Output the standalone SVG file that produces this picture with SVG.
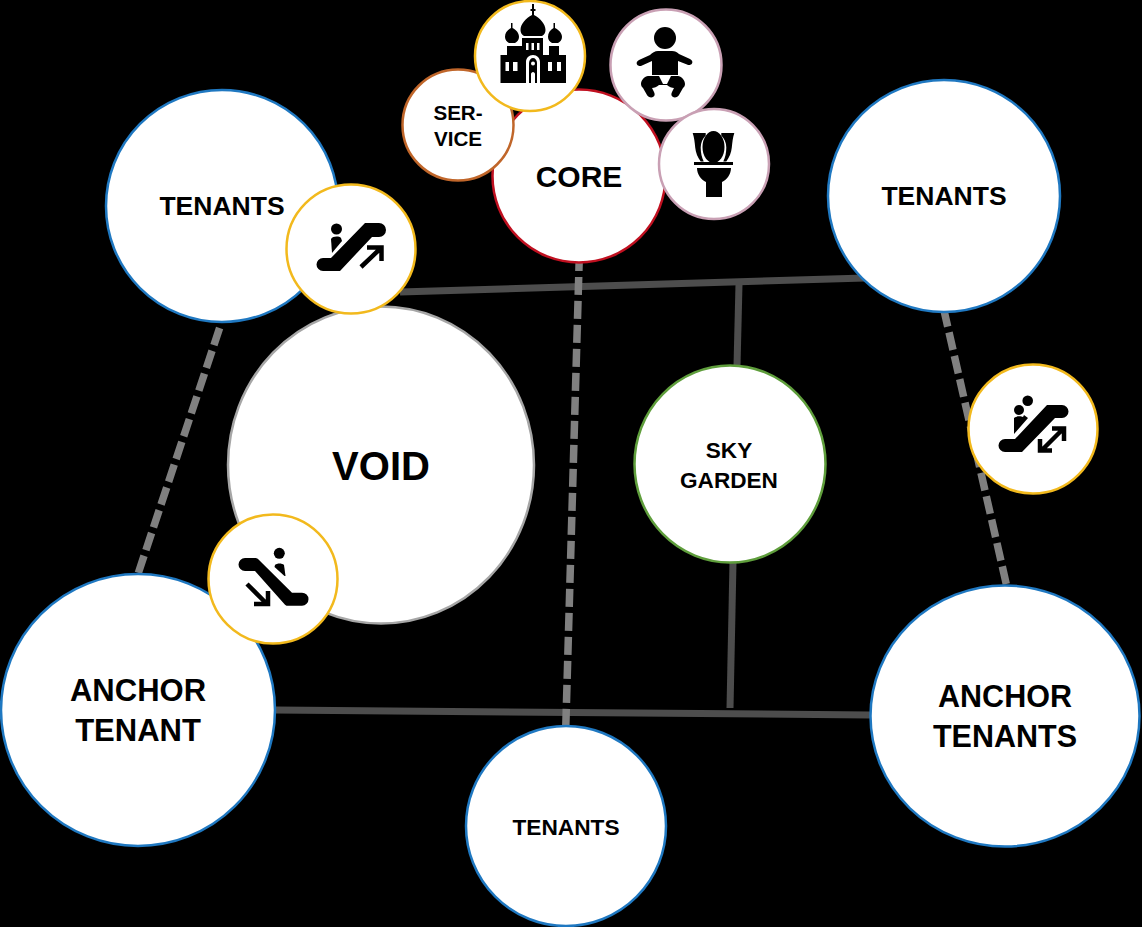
<svg xmlns="http://www.w3.org/2000/svg" width="1142" height="927" viewBox="0 0 1142 927">
<style>
.n{fill:#fff;stroke-width:2.500}
.blue{stroke:#1f78c1}.yel{stroke:#f2b91d}.pink{stroke:#c9a0b4}
.solid{stroke:#4d4d4d;stroke-width:7;fill:none}
.dash{stroke:#808080;stroke-width:7.500;fill:none;stroke-dasharray:18 6}
text{font-family:"Liberation Sans",Arial,sans-serif;font-weight:700;fill:#000;text-anchor:middle}
.ic{fill:#000}
.w{fill:#fff}
.ar{fill:none;stroke:#000;stroke-width:4.500}
</style>
<rect width="1142" height="927" fill="#000"/>
<g id="connectors">
<path class="solid" d="M400 292L865 278"/>
<path class="solid" d="M739 284L737 366"/>
<path class="solid" d="M733 562L730 708"/>
<path class="solid" d="M275 710L870 715"/>
<path class="dash" d="M579.400 253L565.800 726"/>
<path class="dash" d="M219.600 328L138 574"/>
<path class="dash" d="M943.700 309L1006.500 585"/>
</g>
<g id="void"><ellipse class="n" cx="381" cy="465" rx="153" ry="158.500" stroke="#a6a6a6"/><text x="381" y="480" font-size="40">VOID</text></g>
<g id="tenants-tl"><circle class="n blue" cx="222" cy="206" r="116"/><text x="222" y="215" font-size="26.500">TENANTS</text></g>
<g id="tenants-tr"><circle class="n blue" cx="944" cy="196" r="116"/><text x="944" y="205" font-size="26.500">TENANTS</text></g>
<g id="tenants-b"><circle class="n blue" cx="566" cy="826" r="100"/><text x="566" y="835" font-size="22.700">TENANTS</text></g>
<g id="anchor-l"><ellipse class="n blue" cx="138" cy="710" rx="137" ry="136"/><text font-size="31"><tspan x="138" y="701">ANCHOR</tspan><tspan x="138" y="741">TENANT</tspan></text></g>
<g id="anchor-r"><ellipse class="n blue" cx="1005" cy="716" rx="134.500" ry="130.500"/><text font-size="30.500"><tspan x="1005" y="707">ANCHOR</tspan><tspan x="1005" y="747">TENANTS</tspan></text></g>
<g id="sky"><ellipse class="n" cx="730" cy="464" rx="95.500" ry="98.500" stroke="#5f9e3c"/><text font-size="22.600"><tspan x="729" y="458">SKY</tspan><tspan x="729" y="488">GARDEN</tspan></text></g>
<g id="core"><circle class="n" cx="579" cy="176" r="86.500" stroke="#c01020"/><text x="579" y="187" font-size="30">CORE</text></g>
<g id="service"><circle class="n" cx="458" cy="125" r="55.500" stroke="#c0662a"/><text font-size="20.600"><tspan x="458" y="120">SER-</tspan><tspan x="458" y="146">VICE</tspan></text></g>
<g id="church"><circle class="n yel" cx="530" cy="56" r="55"/>
<path class="ic" d="M532 4h2v5h1.500v2H534v4c6 3 11.500 9 11.500 15 0 3-1.500 5-3.500 6h-18c-2-1-3.500-3-3.500-6 0-6 5.500-12 11.500-15v-4h-1.500V9h1.500z"/>
<path class="ic" d="M511 23h1.500v5c4 2 6.500 5 6.500 9 0 3-2 5-4 6h-6c-2-1-4-3-4-6 0-4 2.500-7 6-9zM553.500 23h1.500v5c4 2 7 5 7 9 0 3-2 5-4 6h-6c-2-1-4-3-4-6 0-4 2-7 5.500-9z"/>
<path class="ic" d="M507 46h15v9h-15zM549 46h10v9h-10zM522 38h21v17h-21zM500.500 55h65.500v28h-65.500z"/>
<path class="w" d="M526 43h2.500v7H526zM531.500 43h2.500v7h-2.500zM537 43h2.500v7H537zM505.500 62h3.500v9h-3.500zM513 62h4.500v9H513zM548 62h4v9h-4zM557 62h4v9h-4zM526 83V62c0-4 3-7 7-7s7 3 7 7v21z"/>
<path class="ic" d="M529 83V63c0-3 2-5 4-5s4 2 4 5v20z"/>
<circle class="w" cx="533" cy="63.500" r="2"/>
<path class="w" d="M531 83v-9c0-1 1-2 2-2s2 1 2 2v9z"/>
</g>
<g id="baby"><circle class="n pink" cx="666" cy="65" r="55.500"/>
<circle class="ic" cx="665" cy="38" r="11"/>
<path class="ic" d="M658 51h14c3 0 5 1 7 3l11 5c2 1 3 3 2 4.500s-3 2-5 1L678 61v14h-26V61l-10 4.500c-2 1-4 .5-5-1s0-3.500 2-4.500l11-5c2-2 5-4 8-4z"/>
<path class="ic" d="M652 76h7l4 8h4l4-8h7c3 0 7 4 7 8 0 2-1 3-2 4l-4 7c-1 2-4 3-6 2s-2-3-1-5l2-4c-2 0-5-1-7-3h-8c-2 2-5 3-7 3l2 4c1 2 1 4-1 5s-5 0-6-2l-4-7c-1-1-2-2-2-4 0-4 4-8 7-8z"/>
</g>
<g id="toilet"><circle class="n pink" cx="714" cy="164" r="55"/>
<path class="ic" d="M692.700 133h13v2.500c-3 3-5 7-5 12s1 10 3 14h-3c-3-4-5-9-5.500-14-.5-5-1-10-2.500-14.500zM734.300 133h-13v2.500c3 3 5 7 5 12s-1 10-3 14h3c3-4 5-9 5.500-14 .5-5 1-10 2.500-14.500z"/>
<ellipse class="ic" cx="713.500" cy="147" rx="11" ry="16"/>
<path class="ic" d="M694 162h39v3h-39zM697 168h34c0 6-4 12-9 14v15h-16v-15c-5-2-9-8-9-14z"/>
</g>
<g id="esc-up"><circle class="n yel" cx="351" cy="249" r="64.500"/>
<circle class="ic" cx="336.500" cy="229" r="5.500"/>
<path class="ic" d="M331 239c2-3 8-3 10-1l1 3-10 12z"/>
<path class="ic" d="M323 258h8L365 223h14a7 7 0 0 1 0 14h-7L340 271h-17a6.500 6.500 0 0 1 0-13z"/>
<path class="ar" d="M361 267L381 248M367 247.500H381.500V261"/>
</g>
<g id="esc-both"><circle class="n yel" cx="1033" cy="429" r="64.500"/>
<circle class="ic" cx="1027.700" cy="400.700" r="5.300"/><circle class="ic" cx="1019" cy="410" r="5"/>
<path class="ic" d="M1014 418c2-2 7-2 9-1l1-2 4 3-14 16z"/>
<path class="ic" d="M1005 439h10L1047 405h15a6.500 6.500 0 0 1 0 13h-7L1022 452h-17a6.500 6.500 0 0 1 0-13z"/>
<path class="ar" d="M1042 450L1063 429M1052 428.500H1064V441M1040 439V450.500H1052"/>
</g>
<g id="esc-down"><circle class="n yel" cx="273" cy="579" r="64.500"/>
<circle class="ic" cx="279.300" cy="553.300" r="5.500"/>
<path class="ic" d="M275 565c2-2 7-2 9 0l1.500 11-1 0-10-9z"/>
<path class="ic" d="M245 558h10c1 0 2 0 3 1L292 592.700h10a6.500 6.500 0 0 1 0 13h-14c-1 0-2 0-3-1L255 571h-10a6.500 6.500 0 0 1 0-13z"/>
<path class="ar" d="M247 584L266 603M268 591V604H254"/>
</g>
</svg>
